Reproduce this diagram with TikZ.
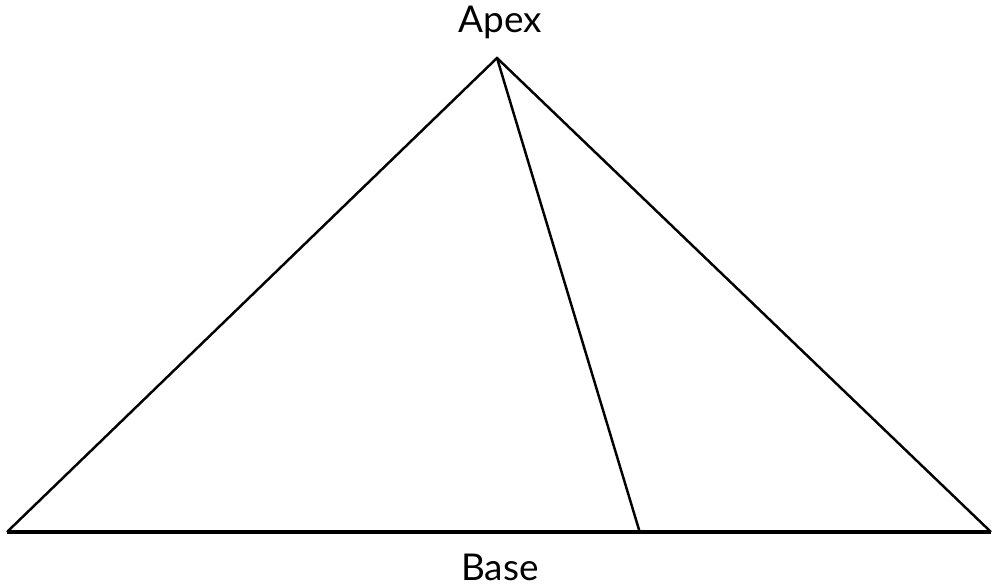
\documentclass[tikz,border=0pt]{standalone}
\usepackage{fontspec}
\setmainfont{Lato}
\begin{document}
\begin{tikzpicture}[x=0.02cm, y=-0.02cm, line join=miter]
            \useasboundingbox (0, 0) rectangle (1002, 586);
            \tikzset{label text/.style={font=\fontsize{21}{25}\selectfont, anchor=base}}

            % Points
            \coordinate (apex) at (497, 58);
            \coordinate (left) at (7, 532);
            \coordinate (right) at (991, 532);
            \coordinate (foot) at (640, 533);

            % Triangle
            \draw[line width=1.4pt] (left) -- (apex) -- (right);
            \draw[line width=1.9pt] (left) -- (right);
            \draw[line width=1.4pt] (apex) -- (foot);

            % Labels
            \node[label text] (apexlabel) at (500, 32) {Apex};
            \node[label text] (baselabel) at (500, 580) {Base};

        \end{tikzpicture}
\end{document}
